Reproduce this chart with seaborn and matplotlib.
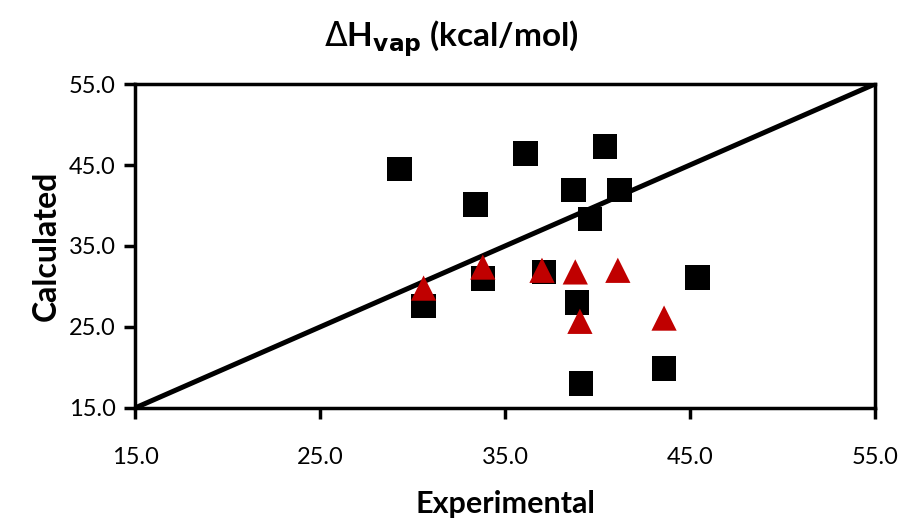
import matplotlib
matplotlib.use("Agg")
import matplotlib.pyplot as plt
import seaborn as sns

# Calculated vs experimental heat of vaporisation (kcal/mol)
sq_exp = [29.3, 30.6, 33.4, 33.8, 36.1, 37.1, 38.7, 38.9, 39.1, 39.6, 40.4, 41.2, 43.6, 45.4]
sq_calc = [44.5, 27.6, 40.1, 31.0, 46.4, 31.8, 41.9, 28.0, 18.0, 38.3, 47.3, 41.9, 19.9, 31.1]

tri_exp = [30.6, 33.8, 37.0, 38.8, 39.05, 41.1, 43.6]
tri_calc = [29.8, 32.4, 32.0, 31.8, 25.7, 32.0, 26.1]

diag = [15.0, 55.0]
ticks = [15.0, 25.0, 35.0, 45.0, 55.0]

sns.set_style("white", {"text.color": "black", "axes.labelcolor": "black",
                        "xtick.color": "black", "ytick.color": "black"})
plt.rcParams["font.family"] = ["Lato", "DejaVu Sans"]

fig, ax = plt.subplots(figsize=(9.02, 5.18), dpi=100)
fig.subplots_adjust(left=0.1497, right=0.970, bottom=0.2124, top=0.8378)

sns.lineplot(x=diag, y=diag, color="black", linewidth=3.6, ax=ax, zorder=2)
sns.scatterplot(x=sq_exp, y=sq_calc, marker="s", s=310, color="black",
                edgecolor="none", ax=ax, zorder=3)
sns.scatterplot(x=tri_exp, y=tri_calc, marker="^", s=330, color="#C00000",
                edgecolor="none", ax=ax, zorder=4)

ax.set_xlim(15, 55)
ax.set_ylim(15, 55)
ax.set_xticks(ticks)
ax.set_yticks(ticks)
ax.set_xticklabels([f"{t:.1f}" for t in ticks], fontsize=17)
ax.set_yticklabels([f"{t:.1f}" for t in ticks], fontsize=17)

for sp in ax.spines.values():
    sp.set_visible(True)
    sp.set_color("black")
    sp.set_linewidth(2.5)

ax.tick_params(axis="x", direction="out", length=8, width=2.5, pad=20, bottom=True)
ax.tick_params(axis="y", direction="out", length=8, width=2.5, pad=6, left=True)

ax.set_xlabel("Experimental", fontsize=22, fontweight="bold", labelpad=16)
ax.set_ylabel("Calculated", fontsize=23, fontweight="bold", labelpad=6)
# title is centred on the figure, not on the axes
fig.suptitle(r"$\Delta$H$_{\mathbf{vap}}$ (kcal/mol)", x=0.5, y=0.965,
             fontsize=24, fontweight="bold")

fig.savefig("out.png", dpi=100)
